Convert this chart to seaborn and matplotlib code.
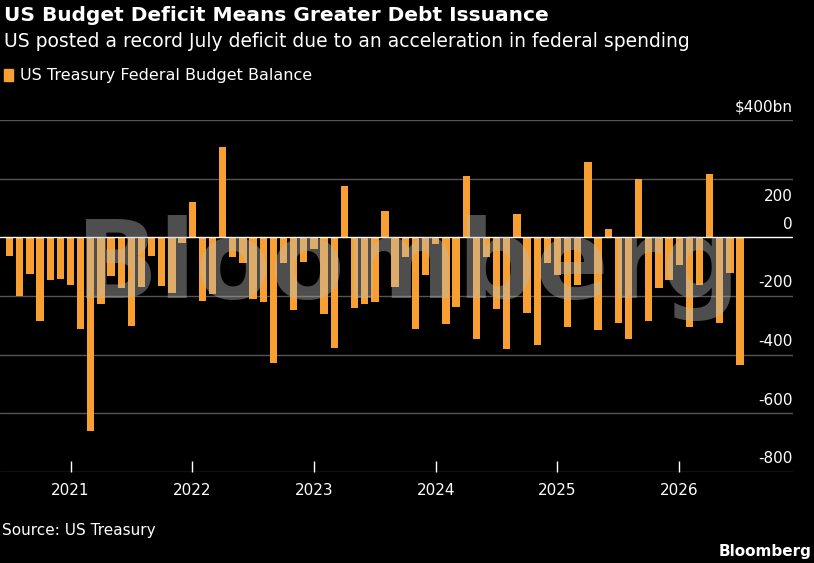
import numpy as np
import pandas as pd
import seaborn as sns
import matplotlib
matplotlib.use("Agg")
import matplotlib.pyplot as plt

# monthly balance, Jul 2020 .. Jul 2026, $bn
balance = [-63, -200, -125, -284, -145, -143, -163, -311, -660, -226, -132, -174,
           -302, -171, -62, -165, -191, -21, 119, -217, -193, 308, -66, -89,
           -211, -219, -430, -88, -249, -85, -39, -262, -378, 176, -240, -228,
           -221, 89, -171, -67, -314, -129, -22, -296, -236, 210, -347, -66,
           -244, -380, 80, -257, -367, -87, -129, -307, -161, 258, -316, 27,
           -291, -345, 198, -284, -173, -145, -95, -307, -164, 215, -291, -120,
           -434]
year_labels = ['2021', '2022', '2023', '2024', '2025', '2026']
year_pos = [6, 18, 30, 42, 54, 66]
yticks = [400, 200, 0, -200, -400, -600, -800]
ytick_labels = ['$400bn', '200', '0', '-200', '-400', '-600', '-800']

orange = '#F7A031'
df = pd.DataFrame({'m': np.arange(len(balance)), 'v': balance})

sns.set_style('dark')
plt.rcParams['font.family'] = ['DejaVu Sans']
fig = plt.figure(figsize=(8.14, 5.63), dpi=100, facecolor='black')
ax = fig.add_axes([0.0, 0.1616, 0.974, 0.6253])
ax.set_facecolor('black')

for y in yticks:
    ax.axhline(y, color='#555555' if y != 0 else 'white', lw=1, zorder=0 if y != 0 else 3)

sns.barplot(data=df, x='m', y='v', native_scale=True, color=orange, width=0.72,
            saturation=1, linewidth=0, ax=ax, zorder=2)
ax.set_xlim(-0.95, 77.2)
ax.set_ylim(-800, 400)
ax.set_xlabel('')
ax.set_ylabel('')
ax.set_yticks([])
for s in ax.spines.values():
    s.set_visible(False)

ax.set_xticks(year_pos, year_labels)
ax.set_xticks([p for p in range(0, 73, 3) if p not in year_pos], minor=True)
ax.tick_params(axis='x', which='major', colors='white', length=8, width=1, labelsize=11, pad=8, direction='in')
ax.tick_params(axis='x', which='minor', colors='#888888', length=5, width=1, direction='in')
ax.xaxis.set_tick_params(bottom=True)

for y, lab in zip(yticks, ytick_labels):
    off = -18 if y == 200 else 4
    ax.annotate(lab, (1.0, y), xycoords=('axes fraction', 'data'), xytext=(0, off),
                textcoords='offset points', ha='right', va='bottom', color='white', fontsize=11)

# watermark
ax.text(0.515, 0.58, 'Bloomberg', transform=ax.transAxes, ha='center', va='center',
        fontsize=78, fontweight='bold', color='#bbbbbb', alpha=0.42, zorder=4)

fig.text(0.005, 0.973, 'US Budget Deficit Means Greater Debt Issuance', color='white',
         fontsize=14.5, fontweight='bold', va='center')
fig.text(0.005, 0.927, 'US posted a record July deficit due to an acceleration in federal spending',
         color='white', fontsize=13.5, va='center')
fig.patches.append(plt.Rectangle((0.005, 0.857), 0.011, 0.021, color=orange, transform=fig.transFigure))
fig.text(0.025, 0.866, 'US Treasury Federal Budget Balance', color='white', fontsize=11.5, va='center')
fig.text(0.003, 0.058, 'Source: US Treasury', color='white', fontsize=11, va='center')
fig.text(0.997, 0.021, 'Bloomberg', color='white', fontsize=11, fontweight='bold', va='center', ha='right')

fig.savefig('out.png', dpi=100, facecolor='black')
